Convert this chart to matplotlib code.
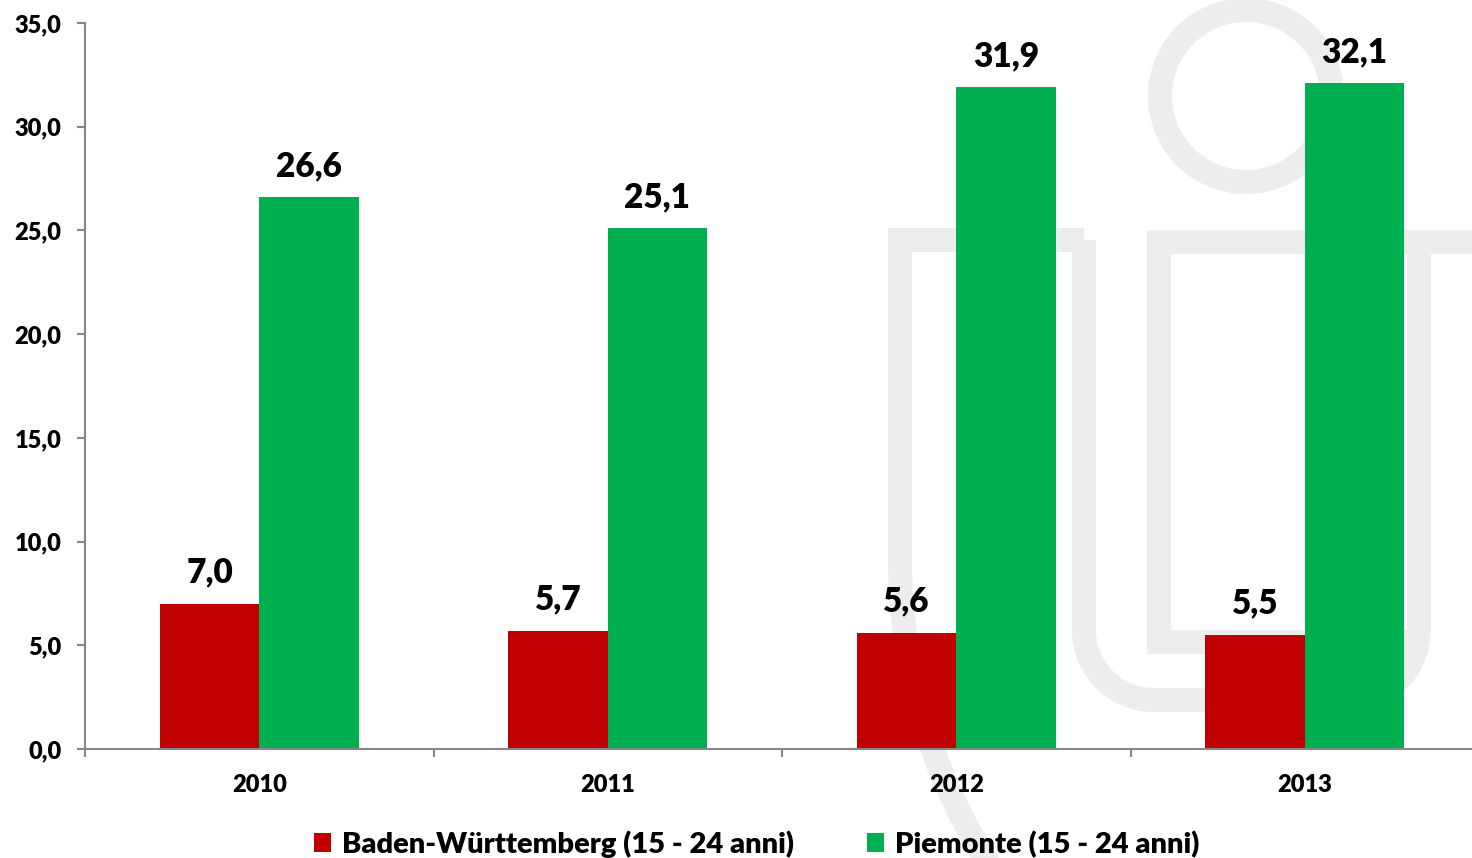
import numpy as np
import matplotlib
matplotlib.use("Agg")
import matplotlib.pyplot as plt
from matplotlib.patches import Patch, Circle, Arc
from matplotlib.ticker import FuncFormatter

years = ["2010", "2011", "2012", "2013"]
baden = [7.0, 5.7, 5.6, 5.5]
piemonte = [26.6, 25.1, 31.9, 32.1]
series_names = ["Baden-Württemberg (15 - 24 anni)", "Piemonte (15 - 24 anni)"]
series_colours = ["#C00000", "#00B050"]

plt.rcParams["font.family"] = ["Lato", "DejaVu Sans"]
plt.rcParams["font.weight"] = "heavy"

W, H = 1472, 858
fig = plt.figure(figsize=(W / 100, H / 100), dpi=100)
fig.patch.set_facecolor("white")

# ── watermark logo (light grey, behind the chart) ────────────────────────────
bg = fig.add_axes([0, 0, 1, 1], zorder=0)
bg.set_xlim(0, W)
bg.set_ylim(H, 0)
bg.axis("off")
wm = "#EDEDED"
lw = 24 * 0.72
line_kw = dict(color=wm, lw=lw, solid_capstyle="butt", solid_joinstyle="miter")
bg.add_patch(Circle((1246, 96), 86, fill=False, edgecolor=wm, linewidth=lw))
# left frame + big arc
bg.plot([1084, 900, 900], [240, 240, 561], **line_kw)
bg.add_patch(Arc((1465, 560), 1130, 1130, theta1=140, theta2=180,
                 edgecolor=wm, linewidth=lw))
# outer U
bg.plot([1084, 1084], [240, 631], **line_kw)
bg.add_patch(Arc((1154, 630), 140, 140, theta1=90, theta2=180, edgecolor=wm, linewidth=lw))
bg.plot([1153, 1350], [700, 700], **line_kw)
bg.add_patch(Arc((1349, 630), 140, 140, theta1=0, theta2=90, edgecolor=wm, linewidth=lw))
bg.plot([1419, 1419], [631, 242], **line_kw)
# inner frame
bg.plot([1480, 1159, 1159, 1419], [242, 242, 642, 642], **line_kw)

# ── chart ────────────────────────────────────────────────────────────────────
ax = fig.add_axes([85 / W, 1 - 749 / H, 1394 / W, 726 / H], zorder=1)
ax.set_facecolor("none")

x = np.arange(len(years))
bw = 0.285
b1 = ax.bar(x - bw / 2, baden, bw, color=series_colours[0], label=series_names[0])
b2 = ax.bar(x + bw / 2, piemonte, bw, color=series_colours[1], label=series_names[1])

for bars in (b1, b2):
    for rect in bars:
        v = rect.get_height()
        ax.annotate(f"{v:.1f}".replace(".", ","),
                    (rect.get_x() + rect.get_width() / 2, v),
                    xytext=(0, 11), textcoords="offset points",
                    ha="center", va="bottom", fontsize=24, fontweight="heavy")

ax.set_xlim(-0.5, len(years) - 0.5)
ax.set_ylim(0, 35)
ax.set_yticks(np.arange(0, 36, 5))
ax.yaxis.set_major_formatter(FuncFormatter(lambda v, p: f"{v:.1f}".replace(".", ",")))
ax.set_xticks(x)
ax.set_xticklabels(years)
ax.set_xticks(np.arange(-0.5, len(years)), minor=True)

for s in ["top", "right"]:
    ax.spines[s].set_visible(False)
for s in ["left", "bottom"]:
    ax.spines[s].set_color("#868686")
    ax.spines[s].set_linewidth(1.5)

ax.tick_params(axis="y", length=6, width=1.5, color="#868686", pad=11,
               labelsize=17)
ax.tick_params(axis="x", which="major", length=0, pad=18, labelsize=17)
ax.tick_params(axis="x", which="minor", length=6, width=1.5, color="#868686")
for lab in ax.get_xticklabels() + ax.get_yticklabels():
    lab.set_fontweight("heavy")

handles = [Patch(facecolor=c, edgecolor="none") for c in series_colours]
fig.legend(handles, series_names, loc="center", ncol=2,
           bbox_to_anchor=(757 / W, 1 - 844 / H), frameon=False,
           handlelength=0.58, handleheight=0.58,
           handletextpad=0.38, columnspacing=2.5, borderpad=0,
           prop={"weight": "heavy", "size": 21})

fig.savefig("out.png", dpi=100)
